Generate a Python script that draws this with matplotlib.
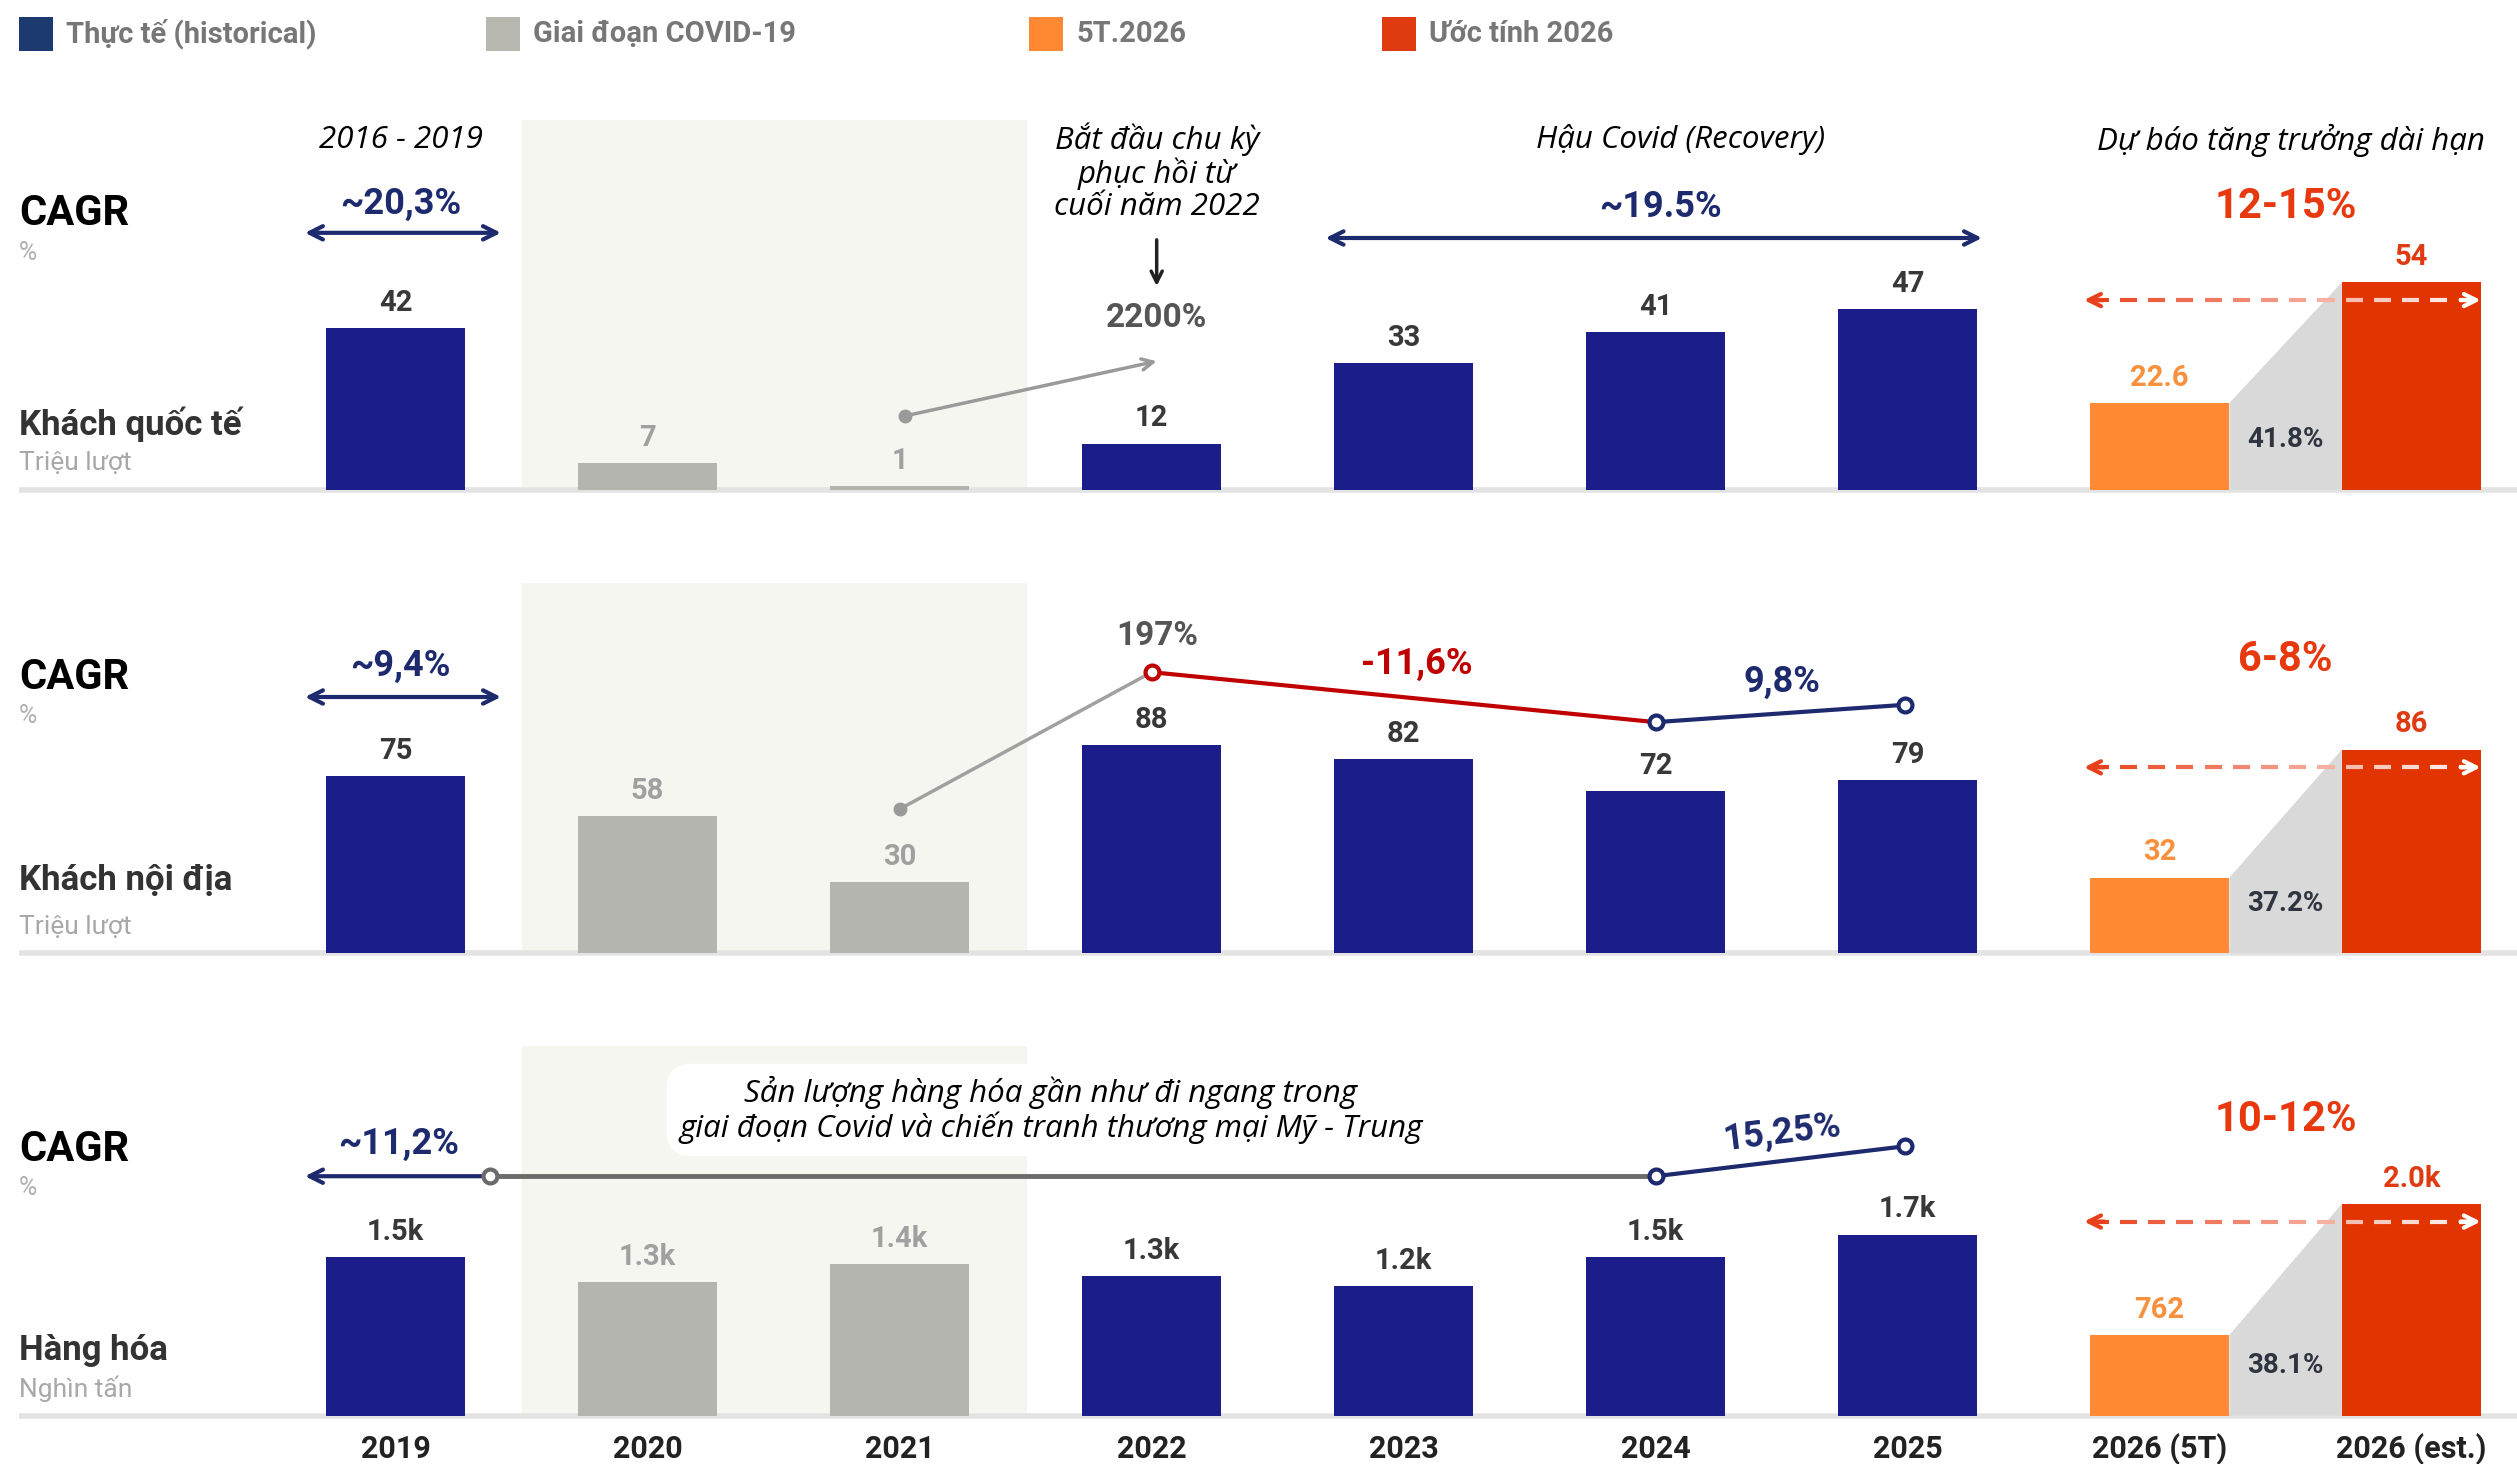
import matplotlib
matplotlib.use('Agg')
import matplotlib.pyplot as plt
from matplotlib.patches import Rectangle, Polygon
import numpy as np

plt.rcParams['font.family'] = ['Roboto', 'DejaVu Sans']
ITALIC = ['Open Sans', 'DejaVu Sans']

# ---- data ----
years = ['2019', '2020', '2021', '2022', '2023', '2024', '2025', '2026 (5T)', '2026 (est.)']
kinds = ['hist', 'covid', 'covid', 'hist', 'hist', 'hist', 'hist', '5t', 'est']

intl = [42, 7, 1, 12, 33, 41, 47, 22.6, 54]
intl_labels = ['42', '7', '1', '12', '33', '41', '47', '22.6', '54']

domestic = [75, 58, 30, 88, 82, 68.6, 73, 32, 86]
domestic_labels = ['75', '58', '30', '88', '82', '72', '79', '32', '86']

cargo = [1500, 1260, 1430, 1320, 1220, 1500, 1710, 762, 2000]
cargo_labels = ['1.5k', '1.3k', '1.4k', '1.3k', '1.2k', '1.5k', '1.7k', '762', '2.0k']

share_labels = ['41.8%', '37.2%', '38.1%']
forecast_labels = ['12-15%', '6-8%', '10-12%']
row_names = ['Khách quốc tế', 'Khách nội địa', 'Hàng hóa']
row_units = ['Triệu lượt', 'Triệu lượt', 'Nghìn tấn']

legend_names = ['Thực tế (historical)', 'Giai đoạn COVID-19', '5T.2026', 'Ước tính 2026']

# ---- style ----
NAVY = '#1b1e8a'
NAVY_TXT = '#1d2a6e'
GRAY_BAR = '#b4b5ae'
ORANGE = '#ff8a33'
RED = '#e23400'
RED_TXT = '#e8380d'
DARK_RED = '#c00000'
SHADE = '#f6f6f1'

bar_colors = {'hist': NAVY, 'covid': GRAY_BAR, '5t': ORANGE, 'est': RED}
label_colors = {'hist': '#383838', 'covid': '#a0a0a0', '5t': '#f7913d', 'est': '#e03a10'}
legend_colors = ['#1c3a70', '#b8b8b0', '#ff8a33', '#e03a10']

W, H = 2517, 1464
XMIN, XMAX = -1.570, 8.418
BAR_W = 0.554
PANEL_H = 370
ITAL_SIZE = 22.5
CAGR_SIZE = 26

fig = plt.figure(figsize=(W / 100, H / 100), dpi=100)
fig.patch.set_facecolor('white')


def make_panel(baseline_px, ytop):
    ax = fig.add_axes([0, 1 - baseline_px / H, 1, PANEL_H / H])
    ax.set_xlim(XMIN, XMAX)
    ax.set_ylim(0, ytop)
    ax.axis('off')
    return ax


def draw_bars(ax, values, labels, share):
    x = np.arange(len(values))
    ax.axvspan(0.5, 2.5, color=SHADE, zorder=0)
    ax.plot([-1.495, XMAX], [0, 0], color='#e3e3e3', lw=4, zorder=1, clip_on=False,
            solid_capstyle='butt')
    ax.bar(x, values, width=BAR_W, color=[bar_colors[k] for k in kinds], zorder=2)
    for xi, v, lab, k in zip(x, values, labels, kinds):
        ax.annotate(lab, (xi, v), xytext=(0, 8), textcoords='offset points', ha='center',
                    va='bottom', fontsize=21, fontweight='bold', color=label_colors[k])
    # wedge between 5T and estimate
    x0 = 7 + BAR_W / 2
    x1 = 8 - BAR_W / 2
    ax.add_patch(Polygon([(x0, 0), (x0, values[7]), (x1, values[8]), (x1, 0)],
                         closed=True, color='#d9d9d9', zorder=1.5, lw=0))
    tr = ax.get_xaxis_transform()
    ax.text(7.5, 0.135, share, transform=tr, ha='center', va='center', fontsize=20,
            fontweight='bold', color='#2e3440', zorder=3)
    # faded dashed arrow
    yf = values[8] / ax.get_ylim()[1] - 0.048
    xa, xb = 6.70, 8.274
    dash, gap = 0.068, 0.044
    xs = xa + 0.03
    while xs < xb - 0.03:
        xe = min(xs + dash, xb - 0.02)
        t = (xs - xa) / (xb - xa)
        c = (1 - t) * np.array([0.91, 0.25, 0.10]) + t * np.array([1, 1, 1])
        ax.plot([xs, xe], [yf, yf], color=c, lw=3, transform=tr, zorder=4,
                solid_capstyle='butt', clip_on=False)
        xs = xe + gap
    ax.annotate('', xy=(xa, yf), xytext=(xa + 0.08, yf), xycoords=tr,
                arrowprops=dict(arrowstyle='->', color='#e8401c', lw=3, mutation_scale=22,
                                shrinkA=0, shrinkB=0), zorder=4)
    ax.annotate('', xy=(xb, yf), xytext=(xb - 0.08, yf), xycoords=tr,
                arrowprops=dict(arrowstyle='->', color='white', lw=3, mutation_scale=22,
                                shrinkA=0, shrinkB=0), zorder=4)


def row_labels(ax, i, cagr_y, name_y, fc_y):
    tr = ax.get_xaxis_transform()
    ax.text(-1.495, cagr_y, 'CAGR', transform=tr, ha='left', va='center', fontsize=30,
            fontweight='bold', color='black')
    ax.text(-1.495, cagr_y - 0.105, '%', transform=tr, ha='left', va='center', fontsize=18,
            color='#b0b0b0')
    ax.text(-1.495, name_y, row_names[i], transform=tr, ha='left', va='center', fontsize=25,
            fontweight='bold', color='#333333')
    ax.text(-1.495, 0.072, row_units[i], transform=tr, ha='left', va='center', fontsize=19,
            color='#a8a8a8')
    ax.text(7.5, fc_y, forecast_labels[i], transform=tr, ha='center', va='center',
            fontsize=30, fontweight='bold', color=RED_TXT)


def double_arrow(ax, x0, x1, y, style='<->'):
    ax.annotate('', xy=(x1, y), xytext=(x0, y), xycoords=ax.get_xaxis_transform(),
                arrowprops=dict(arrowstyle=style, color=NAVY_TXT, lw=3, mutation_scale=24,
                                shrinkA=0, shrinkB=0))


def circle(ax, x, y, edge):
    ax.plot([x], [y], 'o', ms=10, mfc='white', mec=edge, mew=3,
            transform=ax.get_xaxis_transform(), zorder=6, clip_on=False)


# ---- legend ----
legend_x = [19, 486, 1029, 1382]
for lx, name, col in zip(legend_x, legend_names, legend_colors):
    fig.add_artist(Rectangle((lx / W, 1 - 51 / H), 34 / W, 34 / H, transform=fig.transFigure,
                             color=col, lw=0))
    fig.text((lx + 47) / W, 1 - 34 / H, name, ha='left', va='center', fontsize=21,
             fontweight='bold', color='#777777')

# ---- panel 1: international visitors ----
ax1 = make_panel(489.6, 96.4)
draw_bars(ax1, intl, intl_labels, share_labels[0])
row_labels(ax1, 0, 0.745, 0.177, 0.764)
tr = ax1.get_xaxis_transform()
ax1.text(0.02, 0.945, '2016 - 2019', transform=tr, ha='center', va='center',
         fontsize=ITAL_SIZE, style='italic', family=ITALIC)
ax1.text(0.02, 0.772, '~20,3%', transform=tr, ha='center', va='center', fontsize=CAGR_SIZE,
         fontweight='bold', color=NAVY_TXT)
double_arrow(ax1, -0.36, 0.418, 0.694)
ax1.text(3.02, 0.858, 'Bắt đầu chu kỳ\nphục hồi từ\ncuối năm 2022', transform=tr, ha='center',
         va='center', fontsize=ITAL_SIZE, style='italic', family=ITALIC, linespacing=1.07)
ax1.annotate('', xy=(3.02, 0.55), xytext=(3.02, 0.675), xycoords=tr,
             arrowprops=dict(arrowstyle='->', color='#222222', lw=2.5, mutation_scale=20,
                             shrinkA=0, shrinkB=0))
ax1.text(3.02, 0.464, '2200%', transform=tr, ha='center', va='center', fontsize=24,
         fontweight='bold', color='#555555')
ax1.annotate('', xy=(3.02, 0.347), xytext=(2.02, 0.199), xycoords=tr,
             arrowprops=dict(arrowstyle='->', color='#9a9a9a', lw=2.5, mutation_scale=20,
                             shrinkA=0, shrinkB=0))
ax1.plot([2.02], [0.199], 'o', ms=9, color='#9a9a9a', transform=tr, zorder=5)
ax1.text(5.1, 0.945, 'Hậu Covid (Recovery)', transform=tr, ha='center', va='center',
         fontsize=ITAL_SIZE, style='italic', family=ITALIC)
ax1.text(5.02, 0.764, '~19.5%', transform=tr, ha='center', va='center', fontsize=CAGR_SIZE,
         fontweight='bold', color=NAVY_TXT)
double_arrow(ax1, 3.69, 6.295, 0.68)
ax1.text(7.52, 0.945, 'Dự báo tăng trưởng dài hạn', transform=tr, ha='center', va='center',
         fontsize=ITAL_SIZE, style='italic', family=ITALIC)

# ---- panel 2: domestic visitors ----
ax2 = make_panel(953.4, 156.1)
draw_bars(ax2, domestic, domestic_labels, share_labels[1])
row_labels(ax2, 1, 0.747, 0.196, 0.793)
tr = ax2.get_xaxis_transform()
ax2.text(0.02, 0.777, '~9,4%', transform=tr, ha='center', va='center', fontsize=CAGR_SIZE,
         fontweight='bold', color=NAVY_TXT)
double_arrow(ax2, -0.36, 0.418, 0.693)
ax2.plot([2.0, 3.0], [0.39, 0.76], color='#a0a0a0', lw=2.5, transform=tr, zorder=5)
ax2.plot([2.0], [0.39], 'o', ms=9, color='#9a9a9a', transform=tr, zorder=5)
ax2.plot([3.0, 5.0], [0.76, 0.625], color=DARK_RED, lw=3, transform=tr, zorder=5)
ax2.plot([5.0, 5.99], [0.625, 0.672], color=NAVY_TXT, lw=3, transform=tr, zorder=5)
circle(ax2, 3.0, 0.76, DARK_RED)
circle(ax2, 5.0, 0.625, NAVY_TXT)
circle(ax2, 5.99, 0.672, NAVY_TXT)
ax2.text(3.02, 0.858, '197%', transform=tr, ha='center', va='center', fontsize=24,
         fontweight='bold', color='#555555')
ax2.text(4.05, 0.782, '-11,6%', transform=tr, ha='center', va='center', fontsize=CAGR_SIZE,
         fontweight='bold', color=DARK_RED)
ax2.text(5.5, 0.733, '9,8%', transform=tr, ha='center', va='center', fontsize=CAGR_SIZE,
         fontweight='bold', color=NAVY_TXT)

# ---- panel 3: cargo ----
ax3 = make_panel(1415.6, 3494)
draw_bars(ax3, cargo, cargo_labels, share_labels[2])
row_labels(ax3, 2, 0.72, 0.177, 0.80)
tr = ax3.get_xaxis_transform()
ax3.text(0.01, 0.734, '~11,2%', transform=tr, ha='center', va='center', fontsize=CAGR_SIZE,
         fontweight='bold', color=NAVY_TXT)
double_arrow(ax3, 0.374, -0.36, 0.647, style='->')
ax3.plot([0.374, 5.0], [0.647, 0.647], color='#6b6b6b', lw=3.5, transform=tr, zorder=5)
ax3.plot([5.0, 5.99], [0.647, 0.728], color=NAVY_TXT, lw=3, transform=tr, zorder=5)
circle(ax3, 0.374, 0.647, '#6b6b6b')
circle(ax3, 5.0, 0.647, NAVY_TXT)
circle(ax3, 5.99, 0.728, NAVY_TXT)
ax3.text(2.6, 0.826, 'Sản lượng hàng hóa gần như đi ngang trong\n'
         'giai đoạn Covid và chiến tranh thương mại Mỹ - Trung', transform=tr, ha='center',
         va='center', fontsize=ITAL_SIZE, style='italic', family=ITALIC, linespacing=1.07,
         zorder=4, bbox=dict(boxstyle='round,pad=0.4,rounding_size=0.8', fc='white', ec='none'))
ax3.text(5.5, 0.765, '15,25%', transform=tr, ha='center', va='center', fontsize=CAGR_SIZE,
         fontweight='bold', color=NAVY_TXT, rotation=7)
for xi, yr in enumerate(years):
    ax3.text(xi, -0.09, yr, transform=tr, ha='center', va='center', fontsize=22,
             fontweight='bold', color='#222222')

fig.savefig('out.png', dpi=100)
